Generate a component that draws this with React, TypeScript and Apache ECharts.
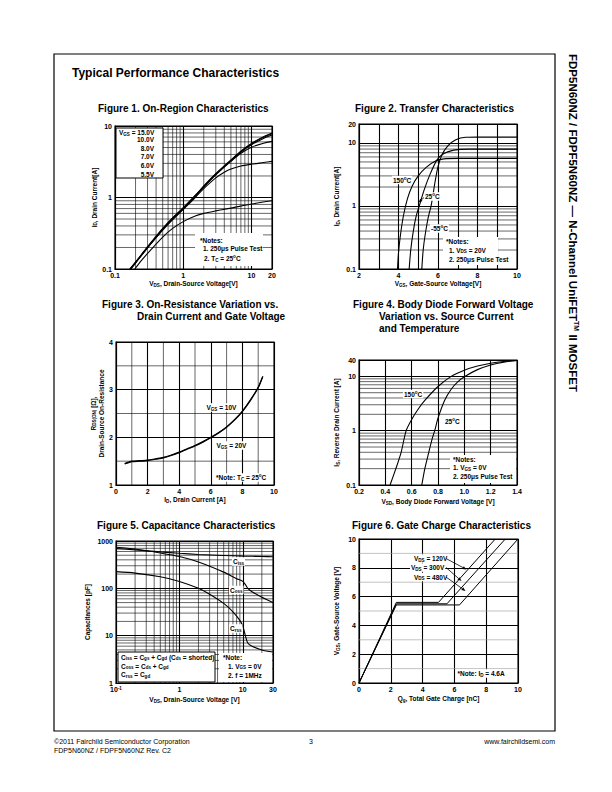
import React, { useEffect, useRef } from 'react';
import * as echarts from 'echarts';

const F = '"Liberation Sans", Arial, Helvetica, sans-serif';

// ---------- Figure 1: On-Region Characteristics (VDS [V], ID [A]) ----------
const fig1_15V = [[0.165,0.1],[0.2,0.125],[0.3,0.205],[0.5,0.37],[0.7,0.52],[1,0.72],[1.5,1.07],[2,1.45],[3,2.15],[5,3.35],[7,4.45],[10,5.7],[15,7.1],[20,8.0]];
const fig1_10V = [[0.165,0.1],[0.2,0.124],[0.3,0.2],[0.5,0.365],[0.7,0.515],[1,0.71],[1.5,1.06],[2,1.43],[3,2.12],[5,3.3],[7,4.4],[10,5.6],[15,6.95],[20,7.8]];
const fig1_8V = [[0.167,0.1],[0.2,0.123],[0.3,0.2],[0.5,0.36],[0.7,0.51],[1,0.7],[1.5,1.05],[2,1.42],[3,2.1],[5,3.27],[7,4.3],[10,5.45],[15,6.7],[20,7.5]];
const fig1_7V = [[0.17,0.1],[0.2,0.122],[0.3,0.2],[0.5,0.355],[0.7,0.5],[1,0.69],[1.5,1.04],[2,1.4],[3,2.07],[5,3.2],[7,4.15],[10,5.05],[15,5.75],[20,6.1]];
const fig1_6V = [[0.17,0.1],[0.2,0.121],[0.3,0.198],[0.5,0.35],[0.7,0.49],[1,0.68],[1.5,1.0],[2,1.33],[3,1.88],[4,2.25],[5,2.5],[7,2.75],[10,2.92],[15,3.08],[20,3.2]];
const fig1_5V5 = [[0.195,0.1],[0.25,0.135],[0.3,0.165],[0.5,0.28],[0.7,0.37],[1,0.46],[1.5,0.55],[2,0.6],[3,0.65],[5,0.71],[10,0.81],[20,0.9]];
const fig1Legend = ['15.0V', '10.0V', '8.0V', '7.0V', '6.0V', '5.5V'];

// ---------- Figure 2: Transfer Characteristics (VGS [V], ID [A]) ----------
const fig2_150C = [[3.95,0.1],[4.0,0.18],[4.1,0.35],[4.25,0.7],[4.45,1.3],[4.7,2.1],[5.0,3.0],[5.4,4.1],[5.9,5.2],[6.3,5.6],[7,5.7],[10,5.7]];
const fig2_25C = [[4.54,0.1],[4.62,0.2],[4.75,0.4],[4.9,0.7],[5.05,1.0],[5.3,1.8],[5.6,3.2],[5.95,5.4],[6.3,6.8],[6.8,7.7],[7.5,8.0],[10,8.0]];
const fig2_m55C = [[5.18,0.1],[5.25,0.2],[5.35,0.35],[5.5,0.65],[5.65,1.0],[5.85,2.4],[6.0,4.2],[6.2,6.5],[6.5,9.0],[6.9,11.2],[7.4,12.3],[8,12.4],[10,12.4]];

// ---------- Figure 3: On-Resistance (ID [A], RDS(on) [ohm]) ----------
const fig3_10V = [[0.55,1.45],[0.8,1.48],[1,1.5],[1.5,1.51],[2,1.52],[2.5,1.55],[3,1.58],[3.5,1.63],[4,1.69],[4.5,1.76],[5,1.83],[5.5,1.91],[6,2.0],[6.5,2.1],[7,2.22],[7.5,2.37],[8,2.55],[8.5,2.78],[9,3.05],[9.3,3.28]];
const fig3_20V = [[0.55,1.44],[0.8,1.47],[1,1.49],[1.5,1.5],[2,1.51],[2.5,1.54],[3,1.57],[3.5,1.62],[4,1.68],[4.5,1.75],[5,1.82],[5.5,1.9],[6,1.99],[6.5,2.09],[7,2.21],[7.5,2.36],[8,2.54],[8.5,2.77],[9,3.04],[9.25,3.25]];

// ---------- Figure 4: Body Diode (VSD [V], IS [A]) ----------
const fig4_150C = [[0.436,0.1],[0.48,0.2],[0.52,0.4],[0.558,1.0],[0.6,1.6],[0.65,2.5],[0.7,3.6],[0.8,6.5],[0.9,10],[1.0,13],[1.1,15.5],[1.2,17.4],[1.3,18.8],[1.4,19.7]];
const fig4_25C = [[0.677,0.1],[0.7,0.2],[0.73,0.4],[0.755,0.7],[0.775,1.0],[0.8,1.7],[0.85,3.6],[0.9,5.8],[0.95,7.9],[1.0,9.8],[1.1,13.3],[1.2,16.2],[1.3,18.3],[1.4,19.6]];
const fig4YTop = '40';

// ---------- Figure 5: Capacitance (VDS [V], C [pF]) ----------
const fig5_Ciss = [[0.1,690],[0.2,650],[0.5,590],[1,550],[2,520],[5,495],[10,480],[20,470],[30,465]];
const fig5_Coss = [[0.1,740],[0.2,680],[0.5,560],[1,470],[2,360],[5,220],[8,160],[10,140],[11,120],[12,100],[14,85],[20,65],[30,50]];
const fig5_Crss = [[0.1,225],[0.2,210],[0.5,175],[1,140],[2,100],[3,75],[5,48],[7,32],[9,21],[10,16],[11,10],[12,7],[14,6],[20,5],[30,4.5]];

// ---------- Figure 6: Gate Charge (Qg [nC], VGS [V]) ----------
const fig6_120V = [[0,0],[2.35,5.6],[5.0,5.6],[8.57,10]];
const fig6_300V = [[0,0],[2.35,5.5],[5.53,5.5],[9.2,10]];
const fig6_480V = [[0,0],[2.35,5.42],[6.32,5.42],[10,10]];

// minor grid positions
const logMinorA = [0.2,0.3,0.4,0.5,0.6,0.7,0.8,0.9,2,3,4,5,6,7,8,9];
const logMinorB = [2,3,4,5,6,7,8,9,20,30,40,50,60,70,80,90,200,300,400,500,600,700,800,900];
const logMinorX5 = [0.2,0.3,0.4,0.5,0.6,0.7,0.8,0.9,2,3,4,5,6,7,8,9,20];
const fig3MinorX = [1,3,5,7,9];
const fig3MinorY = [1.5,2.5,3.5];
const fig6MinorY = [1,3,5,7,9];

function rt(s: string): string {
  let out = '';
  let buf = '';
  const flush = () => { if (buf) { out += `{n|${buf}}`; buf = ''; } };
  let i = 0;
  while (i < s.length) {
    if ((s[i] === '_' || s[i] === '^') && s[i + 1] === '{') {
      flush();
      const j = s.indexOf('}', i);
      out += `{${s[i] === '_' ? 's' : 'p'}|${s.slice(i + 2, j)}}`;
      i = j + 1;
    } else if (s[i] === '\n') {
      flush();
      out += '\n';
      i++;
    } else {
      buf += s[i];
      i++;
    }
  }
  flush();
  return out;
}

function mkRich(size: number, weight = 'bold') {
  return {
    n: { fontSize: size, fontWeight: weight, fontFamily: F, color: '#000', lineHeight: size + 2 },
    s: { fontSize: size * 0.7, fontWeight: weight, fontFamily: F, color: '#000', lineHeight: size * 0.7, verticalAlign: 'bottom' },
    p: { fontSize: size * 0.7, fontWeight: weight, fontFamily: F, color: '#000', lineHeight: size * 0.7, verticalAlign: 'top' },
  };
}
const RICH = mkRich(6.5);

const labelStyle = { fontSize: 7, fontWeight: 'bold', fontFamily: F, color: '#000' };
const majorSplit = { show: true, lineStyle: { color: '#000', width: 1.1 } };

function axisBase(gi: number, name: string, nameGap: number, extra: any) {
  return {
    gridIndex: gi,
    name: rt(name),
    nameLocation: 'middle',
    nameGap,
    nameTextStyle: { rich: RICH },
    axisLine: { show: true, lineStyle: { color: '#000', width: 1.1 } },
    axisTick: { show: false },
    axisLabel: { ...labelStyle, margin: 3 },
    splitLine: majorSplit,
    ...extra,
  };
}

function minorLines(idx: number, dir: 'v' | 'h', vals: number[], ref: number, color = '#000', width = 0.6) {
  return {
    type: 'custom',
    xAxisIndex: idx,
    yAxisIndex: idx,
    silent: true,
    z: 1,
    data: vals.map((v) => (dir === 'v' ? [v, ref] : [ref, v])),
    renderItem: (params: any, api: any) => {
      const cs = params.coordSys;
      const p = api.coord([api.value(0), api.value(1)]);
      const shape = dir === 'v'
        ? { x1: p[0], y1: cs.y, x2: p[0], y2: cs.y + cs.height }
        : { x1: cs.x, y1: p[1], x2: cs.x + cs.width, y2: p[1] };
      return { type: 'line', shape, style: { stroke: color, lineWidth: width } };
    },
  };
}

function curve(idx: number, data: number[][], width = 1.1, smooth: number | boolean = 0.3, color = '#000') {
  return {
    type: 'line',
    xAxisIndex: idx,
    yAxisIndex: idx,
    data,
    showSymbol: false,
    symbol: 'none',
    smooth,
    silent: true,
    z: 3,
    lineStyle: { color, width },
  };
}

function T(x: number, y: number, s: string, opt: any = {}) {
  const rich = opt.rich || RICH;
  return {
    type: 'text',
    x,
    y,
    z: 30,
    rotation: opt.rotation || 0,
    style: {
      text: opt.plain ? s : rt(s),
      rich: opt.plain ? undefined : rich,
      fill: '#000',
      font: opt.font,
      textAlign: opt.align || 'left',
      align: opt.align || 'left',
      textVerticalAlign: 'middle',
      verticalAlign: 'middle',
      backgroundColor: opt.bg ? '#fff' : undefined,
      padding: opt.bg ? [0, 1, 0, 1] : undefined,
    },
  };
}

function box(x: number, y: number, w: number, h: number, stroke?: string) {
  return {
    type: 'rect',
    z: 20,
    shape: { x, y, width: w, height: h },
    style: { fill: '#fff', stroke: stroke || null, lineWidth: 1 },
  };
}

function arrow(x1: number, y1: number, x2: number, y2: number) {
  const a = Math.atan2(y2 - y1, x2 - x1);
  const L = 4, Wd = 1.6;
  const bx = x2 - L * Math.cos(a), by = y2 - L * Math.sin(a);
  return [
    { type: 'line', z: 31, shape: { x1, y1, x2: bx, y2: by }, style: { stroke: '#000', lineWidth: 0.8 } },
    {
      type: 'polygon', z: 31,
      shape: { points: [[x2, y2], [bx + Wd * Math.sin(a), by - Wd * Math.cos(a)], [bx - Wd * Math.sin(a), by + Wd * Math.cos(a)]] },
      style: { fill: '#000' },
    },
  ];
}

export default function App() {
  const ref = useRef<HTMLDivElement>(null);
  useEffect(() => {
    document.body.style.margin = '0';
    const el = ref.current!;
    const chart = echarts.init(el, null, { renderer: 'svg', width: 612, height: 792 });

    const grids = [
      { left: 115, top: 126, width: 157, height: 143 },
      { left: 359, top: 124, width: 158, height: 145 },
      { left: 116, top: 342, width: 158, height: 143 },
      { left: 359, top: 360, width: 158, height: 125 },
      { left: 116, top: 541, width: 157, height: 142 },
      { left: 359, top: 539, width: 159, height: 144 },
    ].map((g) => ({ ...g, show: true, borderColor: '#000', borderWidth: 1.1, backgroundColor: 'transparent', containLabel: false, outerBoundsMode: 'none' }));

    const plain = (v: number) => String(Math.round(v * 1000) / 1000);

    const xAxis = [
      axisBase(0, 'V_{DS}, Drain-Source Voltage[V]', 10, { type: 'log', logBase: 10, min: 0.1, max: 20,
        axisLabel: { ...labelStyle, margin: 3, formatter: plain } }),
      axisBase(1, 'V_{GS}, Gate-Source Voltage[V]', 10, { type: 'value', min: 2, max: 10, interval: 1,
        axisLabel: { ...labelStyle, margin: 3, formatter: (v: number) => (v % 2 === 0 ? String(v) : '') } }),
      axisBase(2, 'I_{D}, Drain Current [A]', 10, { type: 'value', min: 0, max: 10, interval: 2 }),
      axisBase(3, 'V_{SD}, Body Diode Forward Voltage [V]', 12, { type: 'value', min: 0.2, max: 1.4, interval: 0.2,
        axisLabel: { ...labelStyle, margin: 3, formatter: (v: number) => v.toFixed(1) } }),
      axisBase(4, 'V_{DS}, Drain-Source Voltage [V]', 12, { type: 'log', logBase: 10, min: 0.1, max: 30,
        axisLabel: { ...labelStyle, margin: 3,
          rich: { b: { ...labelStyle }, e: { ...labelStyle, fontSize: 4.5, lineHeight: 4, verticalAlign: 'top' } },
          formatter: (v: number) => (Math.abs(v - 0.1) < 1e-6 ? '{b|10}{e|-1}' : String(Math.round(v))) } }),
      axisBase(5, 'Q_{g}, Total Gate Charge [nC]', 11, { type: 'value', min: 0, max: 10, interval: 2 }),
    ];
    const yAxis = [
      axisBase(0, 'I_{D}, Drain Current[A]', 12, { type: 'log', logBase: 10, min: 0.1, max: 10,
        axisLabel: { ...labelStyle, margin: 3, formatter: plain } }),
      axisBase(1, 'I_{D}, Drain Current[A]', 18, { type: 'log', logBase: 10, min: 0.1, max: 20,
        axisLabel: { ...labelStyle, margin: 3, formatter: plain } }),
      axisBase(2, 'R_{DS(ON)} [Ω],\nDrain-Source On-Resistance', 9, { type: 'value', min: 1, max: 4, interval: 1 }),
      axisBase(3, 'I_{S}, Reverse Drain Current [A]', 18, { type: 'log', logBase: 10, min: 0.1, max: 20,
        axisLabel: { ...labelStyle, margin: 3, formatter: (v: number) => (Math.abs(v - 20) < 1e-6 ? fig4YTop : plain(v)) } }),
      axisBase(4, 'Capacitances [pF]', 24, { type: 'log', logBase: 10, min: 1, max: 1000,
        axisLabel: { ...labelStyle, margin: 3, formatter: plain } }),
      axisBase(5, 'V_{GS}, Gate-Source Voltage [V]', 18, { type: 'value', min: 0, max: 10, interval: 2 }),
    ];

    const series: any[] = [
      minorLines(0, 'v', logMinorA, 0.1), minorLines(0, 'h', logMinorA, 0.1),
      minorLines(1, 'h', logMinorA, 2),
      minorLines(2, 'v', fig3MinorX, 1), minorLines(2, 'h', fig3MinorY, 0),
      minorLines(3, 'h', logMinorA, 0.2),
      minorLines(4, 'v', logMinorX5, 1), minorLines(4, 'h', logMinorB, 0.1),
      minorLines(5, 'h', fig6MinorY, 0, '#999', 0.6),
      curve(0, fig1_15V), curve(0, fig1_10V), curve(0, fig1_8V), curve(0, fig1_7V), curve(0, fig1_6V), curve(0, fig1_5V5),
      curve(1, fig2_150C, 1.1, 0.25), curve(1, fig2_25C, 1.1, 0.25), curve(1, fig2_m55C, 1.1, 0.25),
      curve(2, fig3_10V, 1.2), curve(2, fig3_20V, 1.2),
      curve(3, fig4_150C, 1.1, 0.25), curve(3, fig4_25C, 1.1, 0.25),
      curve(4, fig5_Ciss, 1.1, 0.2), curve(4, fig5_Coss, 1.1, 0.25), curve(4, fig5_Crss, 1.1, 0.25),
      curve(5, fig6_120V, 1, false), curve(5, fig6_300V, 1, false), curve(5, fig6_480V, 1, false),
    ];

    const TF = `bold 10px ${F}`;
    const sideRich = {
      a: { fontSize: 11.5, fontWeight: 'bold', fontFamily: F, color: '#000', lineHeight: 14 },
      p: { fontSize: 7, fontWeight: 'bold', fontFamily: F, color: '#000', lineHeight: 7, verticalAlign: 'top' },
    };
    const footRich = mkRich(7, 'normal');

    const graphics: any[] = [
      { type: 'rect', z: 0, shape: { x: 54, y: 54, width: 501, height: 677 }, style: { fill: 'none', stroke: '#000', lineWidth: 1.2 } },
      T(72, 73, 'Typical Performance Characteristics', { plain: true, font: `bold 12px ${F}` }),
      {
        type: 'text', x: 573, y: 54, z: 30, rotation: -Math.PI / 2,
        style: { text: '{a|FDP5N60NZ / FDPF5N60NZ — N-Channel UniFET}{p|TM}{a| II MOSFET}', rich: sideRich,
          textAlign: 'left', align: 'left', textVerticalAlign: 'middle', verticalAlign: 'middle' },
      },
      // figure titles
      T(98, 108, 'Figure 1. On-Region Characteristics', { plain: true, font: TF }),
      T(355, 108, 'Figure 2. Transfer Characteristics', { plain: true, font: TF }),
      T(102, 304, 'Figure 3. On-Resistance Variation vs.', { plain: true, font: TF }),
      T(137, 316, 'Drain Current and Gate Voltage', { plain: true, font: TF }),
      T(353, 304, 'Figure 4. Body Diode Forward Voltage', { plain: true, font: TF }),
      T(379, 316, 'Variation vs. Source Current', { plain: true, font: TF }),
      T(379, 328, 'and Temperature', { plain: true, font: TF }),
      T(97, 525, 'Figure 5. Capacitance Characteristics', { plain: true, font: TF }),
      T(352, 525, 'Figure 6. Gate Charge Characteristics', { plain: true, font: TF }),
      // fig 1 legend + notes
      box(116, 128, 47, 50, '#000'),
      T(119, 132.5, 'V_{GS} = ' + fig1Legend[0]),
      ...fig1Legend.slice(1).map((t, i) => T(154, [139.5, 148, 156.7, 165.5, 174][i], t, { align: 'right' })),
      box(195, 233, 68, 33),
      T(200, 240, '*Notes:'),
      T(203, 248.5, '1. 250μs Pulse Test'),
      T(204, 258.5, '2. T_{C} = 25^{o}C'),
      // fig 2
      T(392, 180, '150^{o}C', { bg: true }),
      T(424, 196.5, '25^{o}C', { bg: true }),
      ...arrow(424, 197.5, 418.5, 202.5),
      T(430, 228.5, '-55^{o}C', { bg: true }),
      box(443, 237, 55, 28),
      T(446, 241, '*Notes:'),
      T(449, 250, '1. V_{DS} = 20V'),
      T(449, 259.5, '2. 250μs Pulse Test'),
      // fig 3
      T(205.5, 407.5, 'V_{GS} = 10V', { bg: true }),
      T(215.5, 445.5, 'V_{GS} = 20V', { bg: true }),
      T(215, 477.5, '*Note: T_{C} = 25^{o}C', { bg: true }),
      // fig 4
      T(403, 394, '150^{o}C', { bg: true }),
      T(444, 421, '25^{o}C', { bg: true }),
      box(450, 455, 66, 28),
      T(453, 459, '*Notes:'),
      T(453, 467.5, '1. V_{GS} = 0V'),
      T(453, 476, '2. 250μs Pulse Test'),
      // fig 5
      T(232, 561.5, 'C_{iss}', { bg: true }),
      T(229, 590, 'C_{oss}', { bg: true }),
      T(229, 628.5, 'C_{rss}', { bg: true }),
      box(118, 652, 97, 30, '#000'),
      T(121, 657, 'C_{iss} = C_{gs} + C_{gd} (C_{ds} = shorted)'),
      T(121, 666, 'C_{oss} = C_{ds} + C_{gd}'),
      T(121, 674.5, 'C_{rss} = C_{gd}'),
      box(219, 653, 53, 29),
      T(223, 657, '*Note:'),
      T(228, 666, '1. V_{GS} = 0V'),
      T(228, 675, '2. f = 1MHz'),
      // fig 6
      T(413, 558.5, 'V_{DS} = 120V', { bg: true }),
      T(410, 567.5, 'V_{DS} = 300V', { bg: true }),
      T(413, 577, 'V_{DS} = 480V', { bg: true }),
      ...arrow(446, 558.5, 466.5, 569.5),
      ...arrow(446, 567.5, 461.5, 581),
      ...arrow(446, 577, 465.5, 591),
      T(456.5, 673.5, '*Note: I_{D} = 4.6A', { bg: true }),
      // footer
      T(54, 741, '©2011 Fairchild Semiconductor Corporation', { rich: footRich }),
      T(54, 750.5, 'FDP5N60NZ / FDPF5N60NZ Rev. C2', { rich: footRich }),
      T(311, 741, '3', { rich: footRich, align: 'center' }),
      T(555, 741, 'www.fairchildsemi.com', { rich: footRich, align: 'right' }),
    ];

    chart.setOption({
      animation: false,
      backgroundColor: '#fff',
      grid: grids,
      xAxis,
      yAxis,
      series,
      graphic: { elements: graphics },
    });
    return () => chart.dispose();
  }, []);
  return <div ref={ref} style={{ width: 612, height: 792 }} />;
}
